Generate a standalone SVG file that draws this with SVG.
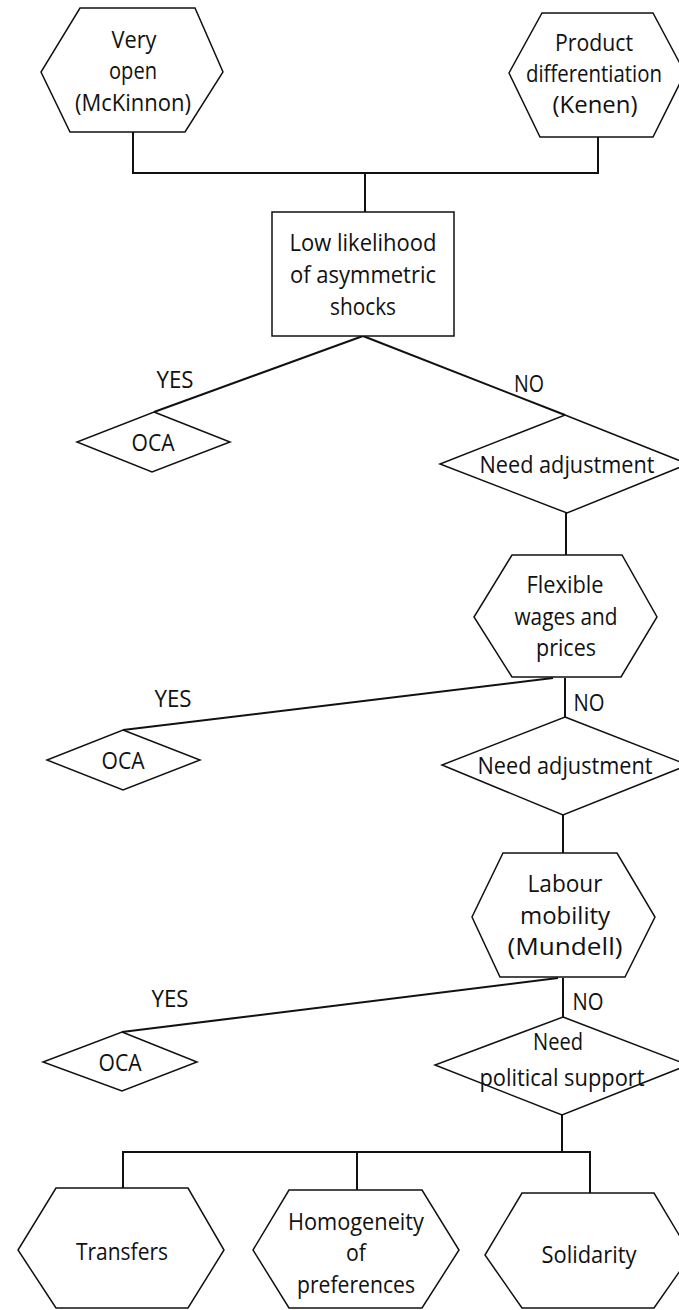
<svg xmlns="http://www.w3.org/2000/svg" width="679" height="1310" viewBox="0 0 679 1310">
<style>
.shape{fill:#fff;stroke:#111;stroke-width:1.5;stroke-linejoin:miter}
.conn{fill:none;stroke:#111;stroke-width:2}
text{font-family:"Open Sans","Noto Sans","Liberation Sans",sans-serif;font-size:24px;fill:#111;text-anchor:middle}
</style>
<rect width="679" height="1310" fill="#fff"/>
<g id="connectors">
<polyline class="conn" points="133,132 133,173 598,173 598,137"/>
<line class="conn" x1="365" y1="173" x2="365" y2="212"/>
<line class="conn" x1="363" y1="336" x2="154" y2="412"/>
<line class="conn" x1="363" y1="336" x2="565" y2="415"/>
<line class="conn" x1="566" y1="513" x2="566" y2="555"/>
<line class="conn" x1="553" y1="678" x2="123" y2="730"/>
<line class="conn" x1="565" y1="678" x2="565" y2="717"/>
<line class="conn" x1="563" y1="815" x2="563" y2="853"/>
<line class="conn" x1="558" y1="978" x2="122" y2="1032"/>
<line class="conn" x1="563" y1="978" x2="563" y2="1017"/>
<line class="conn" x1="562" y1="1115" x2="562" y2="1152"/>
<polyline class="conn" points="123,1188 123,1152 590,1152 590,1193"/>
<line class="conn" x1="357" y1="1152" x2="357" y2="1190"/>
<text x="175" y="388" textLength="37" lengthAdjust="spacingAndGlyphs">YES</text>
<text x="529" y="392" textLength="30" lengthAdjust="spacingAndGlyphs">NO</text>
<text x="173" y="707" textLength="37" lengthAdjust="spacingAndGlyphs">YES</text>
<text x="589" y="711" textLength="31" lengthAdjust="spacingAndGlyphs">NO</text>
<text x="170" y="1007" textLength="37" lengthAdjust="spacingAndGlyphs">YES</text>
<text x="588" y="1010" textLength="31" lengthAdjust="spacingAndGlyphs">NO</text>
</g>
<g id="very-open">
<polygon class="shape" points="80,8 195,8 223,72 185,132 70,132 41,72"/>
<text x="134" y="48" textLength="45" lengthAdjust="spacingAndGlyphs">Very</text>
<text x="133" y="79" textLength="48" lengthAdjust="spacingAndGlyphs">open</text>
<text x="133" y="111" textLength="116" lengthAdjust="spacingAndGlyphs">(McKinnon)</text>
</g>
<g id="product-diff">
<polygon class="shape" points="542,13 653,13 685,73 653,137 540,137 509,73"/>
<text x="594" y="51" textLength="78" lengthAdjust="spacingAndGlyphs">Product</text>
<text x="594" y="82" textLength="136" lengthAdjust="spacingAndGlyphs">differentiation</text>
<text x="595" y="113" textLength="85" lengthAdjust="spacingAndGlyphs">(Kenen)</text>
</g>
<g id="low-likelihood">
<rect class="shape" x="272" y="212" width="182" height="124"/>
<text x="363" y="251" textLength="147" lengthAdjust="spacingAndGlyphs">Low likelihood</text>
<text x="363" y="283" textLength="146" lengthAdjust="spacingAndGlyphs">of asymmetric</text>
<text x="363" y="315" textLength="66" lengthAdjust="spacingAndGlyphs">shocks</text>
</g>
<g id="oca-1">
<polygon class="shape" points="154,412 230,442 152,472 77,442"/>
<text x="153" y="451" textLength="43" lengthAdjust="spacingAndGlyphs">OCA</text>
</g>
<g id="need-adjustment-1">
<polygon class="shape" points="565,415 688,464 567,513 440,464"/>
<text x="567" y="473" textLength="175" lengthAdjust="spacingAndGlyphs">Need adjustment</text>
</g>
<g id="flexible-wages">
<polygon class="shape" points="512,555 622,555 657,617 621,677 512,677 474,617"/>
<text x="565" y="593" textLength="77" lengthAdjust="spacingAndGlyphs">Flexible</text>
<text x="566" y="625" textLength="103" lengthAdjust="spacingAndGlyphs">wages and</text>
<text x="566" y="656" textLength="60" lengthAdjust="spacingAndGlyphs">prices</text>
</g>
<g id="oca-2">
<polygon class="shape" points="123,730 200,760 123,790 47,760"/>
<text x="123" y="769" textLength="43" lengthAdjust="spacingAndGlyphs">OCA</text>
</g>
<g id="need-adjustment-2">
<polygon class="shape" points="565,717 688,765 563,815 442,765"/>
<text x="565" y="774" textLength="175" lengthAdjust="spacingAndGlyphs">Need adjustment</text>
</g>
<g id="labour-mobility">
<polygon class="shape" points="503,853 617,853 655,917 625,977 500,977 472,917"/>
<text x="565" y="892" textLength="75" lengthAdjust="spacingAndGlyphs">Labour</text>
<text x="565" y="924" textLength="90" lengthAdjust="spacingAndGlyphs">mobility</text>
<text x="565" y="955" textLength="115" lengthAdjust="spacingAndGlyphs">(Mundell)</text>
</g>
<g id="oca-3">
<polygon class="shape" points="122,1032 197,1062 122,1091 43,1062"/>
<text x="120" y="1071" textLength="43" lengthAdjust="spacingAndGlyphs">OCA</text>
</g>
<g id="political-support">
<polygon class="shape" points="563,1017 688,1065 562,1115 435,1065"/>
<text x="558" y="1050" textLength="50" lengthAdjust="spacingAndGlyphs">Need</text>
<text x="562" y="1086" textLength="165" lengthAdjust="spacingAndGlyphs">political support</text>
</g>
<g id="transfers">
<polygon class="shape" points="56,1188 188,1188 224,1250 188,1308 56,1308 18,1250"/>
<text x="122" y="1260" textLength="92" lengthAdjust="spacingAndGlyphs">Transfers</text>
</g>
<g id="homogeneity">
<polygon class="shape" points="289,1190 422,1190 459,1250 422,1308 289,1308 253,1250"/>
<text x="356" y="1230" textLength="136" lengthAdjust="spacingAndGlyphs">Homogeneity</text>
<text x="356" y="1261" textLength="20" lengthAdjust="spacingAndGlyphs">of</text>
<text x="356" y="1293" textLength="118" lengthAdjust="spacingAndGlyphs">preferences</text>
</g>
<g id="solidarity">
<polygon class="shape" points="522,1193 654,1193 691,1255 654,1308 522,1308 485,1255"/>
<text x="589" y="1263" textLength="95" lengthAdjust="spacingAndGlyphs">Solidarity</text>
</g>
</svg>
